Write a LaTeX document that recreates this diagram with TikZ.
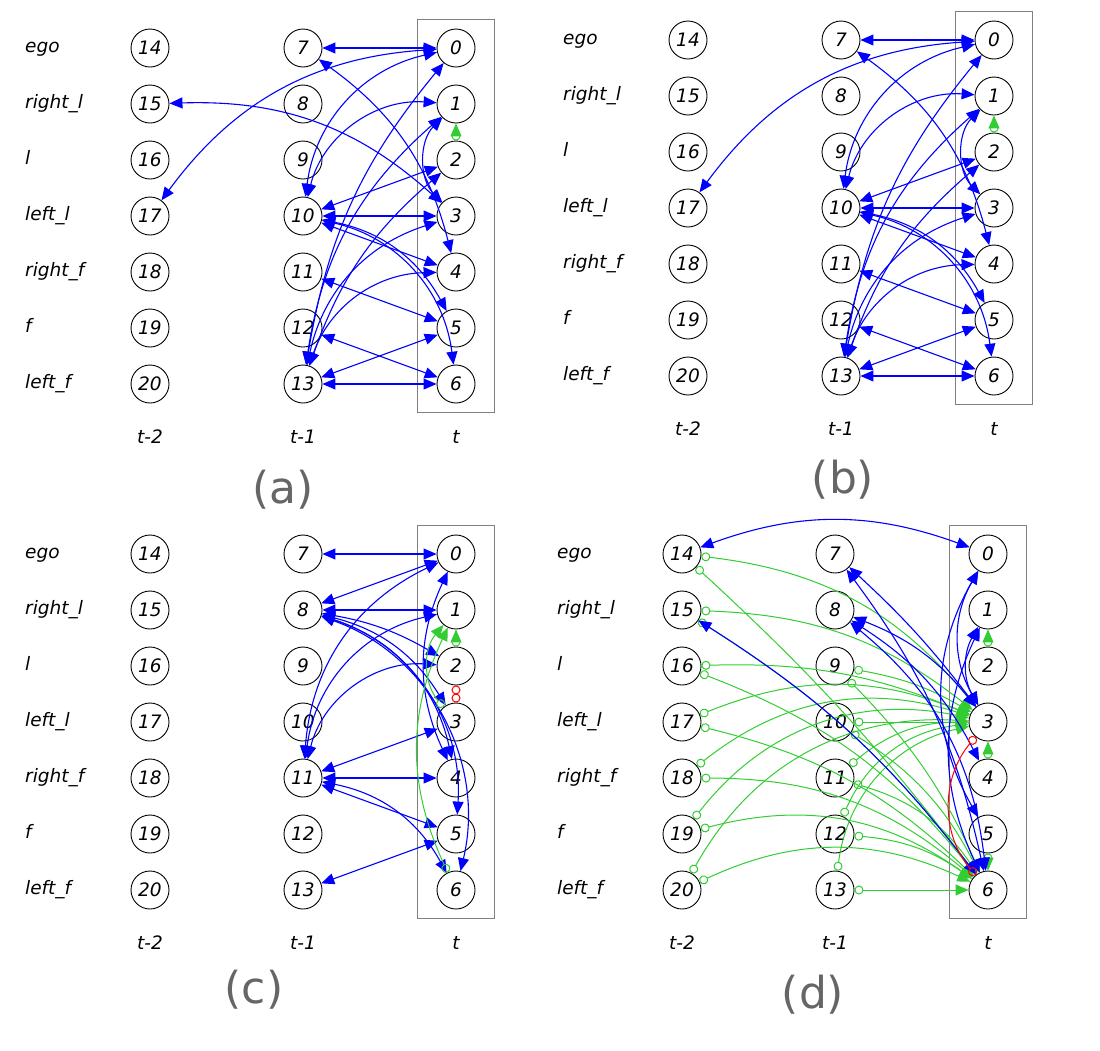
\documentclass[tikz,border=0pt]{standalone}
\usepackage{fontspec}
\setmainfont{DejaVu Sans}
\usetikzlibrary{arrows.meta,fit}
\definecolor{lgreen}{HTML}{32CD32}
\definecolor{lblue}{HTML}{0000FF}
\definecolor{lred}{HTML}{FF0000}
\tikzset{
  var/.style={circle, draw=black, line width=0.9pt, minimum size=38pt, inner sep=0pt,
    font=\itshape\fontsize{18.5}{18.5}\selectfont},
  rowlab/.style={anchor=west, text height=13pt, text depth=4pt, inner sep=0pt,
    font=\itshape\fontsize{18.5}{18.5}\selectfont},
  collab/.style={font=\itshape\fontsize{18.5}{18.5}\selectfont},
  panlab/.style={text=black!60, font=\fontsize{44}{44}\selectfont},
  tbox/.style={draw=black!50, line width=1.1pt, inner xsep=19pt, inner ysep=9pt},
  link/.style={lblue, line width=1.1pt, {Triangle[length=13pt,width=11pt]}-{Triangle[length=13pt,width=11pt]}},
  glink/.style={lgreen, line width=1pt, {Circle[open,length=9pt,width=9pt]}-{Triangle[length=13pt,width=11pt]}},
  rlink/.style={lred, line width=1pt, {Circle[open,length=9pt,width=9pt]}-{Circle[open,length=9pt,width=9pt]}},
}
% #1 prefix, #2 x of row labels, #3 x of t-2 column, #4 y of first row, #5 letter, #6 letter position
\newcommand{\drawpanel}[6]{
  \foreach \lab [count=\k from 0] in {ego,right\_l,l,left\_l,right\_f,f,left\_f} {
    \pgfmathtruncatemacro\ta{14+\k}
    \pgfmathtruncatemacro\tb{7+\k}
    \node[rowlab] (#1l\k) at (#2,{#4+56*\k}) {\lab};
    \node[var] (#1\ta) at (#3,{#4+56*\k}) {\ta};
    \node[var] (#1\tb) at ({#3+153},{#4+56*\k}) {\tb};
    \node[var] (#1\k) at ({#3+306},{#4+56*\k}) {\k};
  }
  \node[tbox, fit=(#10)(#16)] (#1box) {};
  \node[collab] (#1c2) at (#3,{#4+389}) {t-2};
  \node[collab] (#1c1) at ({#3+153},{#4+389}) {t-1};
  \node[collab] (#1c0) at ({#3+306},{#4+389}) {t};
  \node[panlab] (#1name) at #6 {(#5)};
}
\begin{document}
\begin{tikzpicture}[x=1pt, y=-1pt]
\useasboundingbox (0,0) rectangle (1100,1050);

\drawpanel{a}{25}{150}{48}{a}{(283,490)}
\drawpanel{b}{563}{688}{40}{b}{(843,480)}
\drawpanel{c}{25}{150}{554}{c}{(254,990)}
\drawpanel{d}{557}{682}{554}{d}{(813,995)}

% (a)
\foreach \s/\d/\b in {7/0/0, 17/0/25, 15/3/22, 7/4/20, 10/0/35, 13/0/15, 10/1/40, 13/1/20,
  10/2/0, 13/2/15, 10/3/0, 13/3/30, 10/4/0, 10/5/25, 10/6/35, 11/5/0, 13/4/35, 12/6/0,
  13/5/0, 13/6/0, 1/3/-45}
  \draw[link] (a\s) to[bend left=\b] (a\d);
\draw[glink] (a2) -- (a1);

% (b)
\foreach \s/\d/\b in {7/0/0, 17/0/25, 7/4/20, 10/0/35, 13/0/15, 10/1/40, 13/1/20,
  10/2/0, 13/2/15, 10/3/0, 13/3/30, 10/4/0, 10/5/25, 10/6/35, 11/5/0, 13/4/35, 12/6/0,
  13/5/0, 13/6/0, 1/3/-45}
  \draw[link] (b\s) to[bend left=\b] (b\d);
\draw[glink] (b2) -- (b1);

% (c)
\foreach \s/\d/\b in {7/0/0, 8/0/0, 8/1/0, 8/2/10, 8/3/22, 8/4/30, 8/5/38, 8/6/42,
  11/0/30, 11/1/35, 11/2/40, 11/3/0, 11/4/0, 11/5/0, 11/6/25, 13/5/0, 0/4/-25}
  \draw[link] (c\s) to[bend left=\b] (c\d);
\foreach \s/\d/\b in {2/1/0, 3/1/40, 6/1/25}
  \draw[glink] (c\s) to[bend left=\b] (c\d);
\draw[rlink] (c2) -- (c3);

% (d)
\foreach \s/\d/\b in {14/3/22, 14/6/5, 15/3/18, 15/6/10, 16/3/12, 16/6/15, 17/3/22, 17/6/15,
  18/3/28, 18/6/20, 19/3/32, 19/6/25, 20/3/32, 20/6/25, 9/3/10, 9/6/10, 10/3/0, 10/6/15,
  11/3/20, 11/6/20, 12/3/30, 12/6/15, 13/3/35, 13/6/0, 2/1/0, 4/3/0, 5/6/0}
  \draw[glink] (d\s) to[bend left=\b] (d\d);
\foreach \s/\d/\b in {14/0/20, 15/6/10, 7/3/5, 7/6/12, 8/3/15, 8/4/15, 8/6/22,
  0/3/-30, 0/5/-30, 1/3/-30, 1/6/-25}
  \draw[link] (d\s) to[bend left=\b] (d\d);
\draw[rlink] (d3) to[bend right=40] (d6);
\end{tikzpicture}
\end{document}
